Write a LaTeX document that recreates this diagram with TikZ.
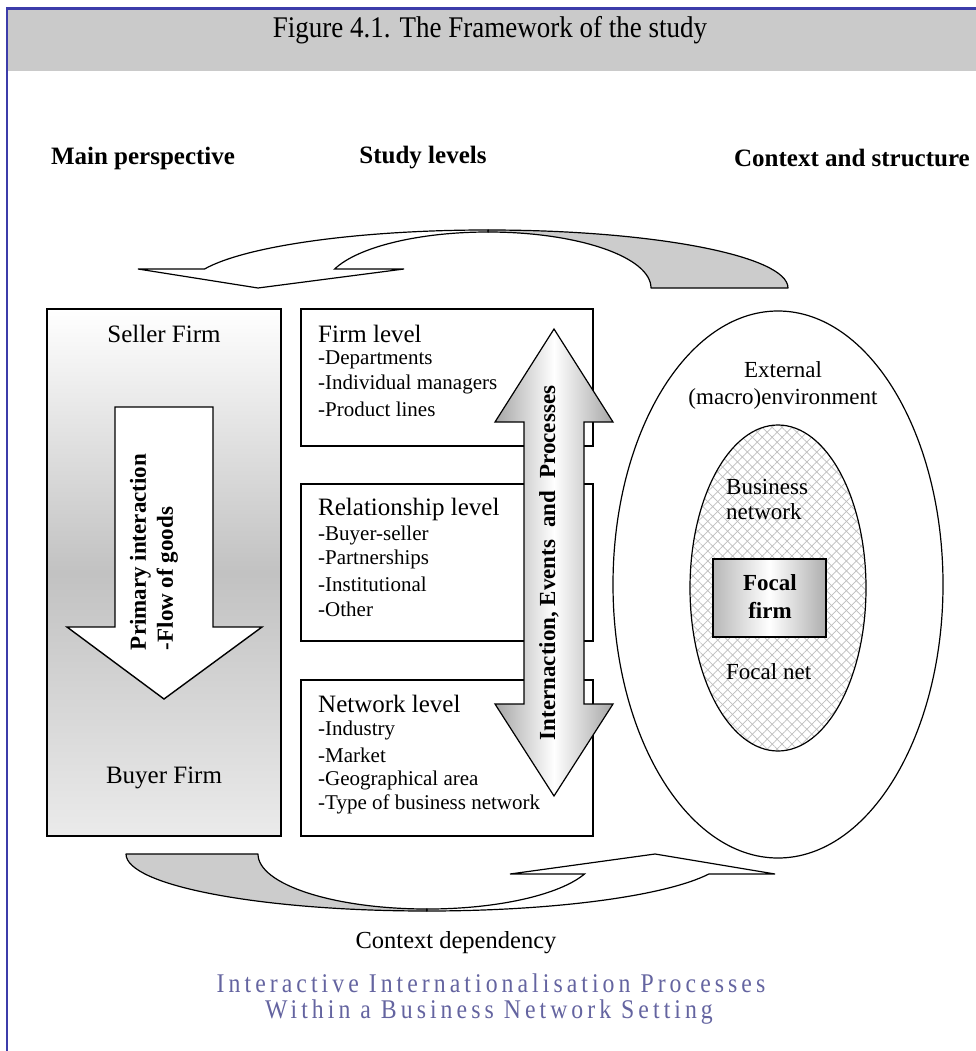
\documentclass[tikz,border=0pt]{standalone}
\usepackage{fontspec}
\setmainfont{Liberation Serif}
\newfontfamily\spacedfont[LetterSpace=15,FakeStretch=0.88]{Liberation Serif}
\newfontfamily\titlefont[FakeStretch=0.9]{Liberation Serif}
\usetikzlibrary{patterns.meta}
\definecolor{frameblue}{RGB}{60,60,170}
\definecolor{bargray}{RGB}{202,202,202}
\definecolor{backgray}{RGB}{204,204,204}
\definecolor{slate}{RGB}{100,100,160}
\definecolor{hatchgray}{RGB}{190,190,190}
\tikzset{
  hdr/.style={font=\fontsize{25}{29}\selectfont\bfseries, inner sep=0},
  lvl/.style={font=\fontsize{25}{29}\selectfont, anchor=west, inner sep=0},
  itm/.style={font=\fontsize{21}{25}\selectfont, anchor=west, inner sep=0},
  txt/.style={font=\fontsize{23}{27}\selectfont, inner sep=0},
  boxline/.style={draw=black, line width=1.2pt},
  backpart/.style={fill=backgray, draw=black, line width=1.2pt, line join=round},
  frontpart/.style={fill=white, draw=black, line width=1.2pt, line join=miter},
  subtitle/.style={inner sep=0, text=slate, font=\spacedfont\fontsize{27}{32}\selectfont},
}
\begin{document}
\begin{tikzpicture}[x=1pt,y=-1pt]
\useasboundingbox (0,0) rectangle (976,1051);
\fill[white] (0,0) rectangle (976,1051);
% title bar and frame
\fill[bargray] (8,10) rectangle (976,71);
\draw[frameblue, line width=2.5pt] (7,1051) -- (7,8.5) -- (976,8.5);
\node[font=\titlefont\fontsize{30}{34}\selectfont, inner sep=0, anchor=base] (title) at (490,38) {Figure 4.1. The Framework of the study};
% headers
\node[hdr] (hmain) at (143,158) {Main perspective};
\node[hdr] (hstudy) at (423,158) {Study levels};
\node[hdr] (hctx) at (852,158) {Context and structure};
% top curved arrow
\path[backpart] (488,230) arc[start angle=270,end angle=360,x radius=300,y radius=58]
  -- (651,288) arc[start angle=0,end angle=-90,x radius=163,y radius=56] -- cycle;
\path[frontpart] (204.5,269) arc[start angle=199.1,end angle=270,x radius=300,y radius=58]
  -- (488,232) arc[start angle=270,end angle=199.8,x radius=163,y radius=56]
  -- (404,269) -- (258,288) -- (138,269) -- cycle;
% bottom curved arrow
\path[backpart] (126,854) arc[start angle=180,end angle=90,x radius=301,y radius=57]
  -- (427,909) arc[start angle=90,end angle=180,x radius=169,y radius=55] -- cycle;
\path[frontpart] (427,911) arc[start angle=90,end angle=20.5,x radius=301,y radius=57]
  -- (775,874) -- (655,854) -- (510,874) -- (584.5,874)
  arc[start angle=21.3,end angle=90,x radius=169,y radius=55] -- cycle;
% left box
\path[boxline, top color=white, bottom color=black!8, middle color=black!24] (47,309) rectangle (281,836);
\node[txt, font=\fontsize{25}{29}\selectfont] (seller) at (164,334) {Seller Firm};
\node[txt, font=\fontsize{25}{29}\selectfont] (buyer) at (164,778) {Buyer Firm};
\path[frontpart, line width=1.4pt] (115,407) -- (213,407) -- (213,627) -- (262,627) -- (164,699) -- (67,627) -- (115,627) -- cycle;
\node[font=\fontsize{23}{27}\selectfont\bfseries, rotate=90, align=left, inner sep=0] (prim) at (154,552) {Primary interaction\\-Flow of goods};
% middle boxes
\draw[boxline, fill=white] (301,309) rectangle (593,446);
\draw[boxline, fill=white] (301,484) rectangle (593,641);
\draw[boxline, fill=white] (301,680) rectangle (593,836);
\node[lvl] (firmT) at (318,334) {Firm level};
\node[itm] (firm1) at (318,360) {-Departments};
\node[itm] (firm2) at (318,384) {-Individual managers};
\node[itm] (firm3) at (318,409) {-Product lines};
\node[lvl] (relT) at (318,509) {Relationship level};
\node[itm] (rel1) at (318,535) {-Buyer-seller};
\node[itm] (rel2) at (318,559) {-Partnerships};
\node[itm] (rel3) at (318,584) {-Institutional};
\node[itm] (rel4) at (318,609) {-Other};
\node[lvl] (netT) at (318,704) {Network level};
\node[itm] (net1) at (318,730) {-Industry};
\node[itm] (net2) at (318,755) {-Market};
\node[itm] (net3) at (318,780) {-Geographical area};
\node[itm] (net4) at (318,804) {-Type of business network};
% double arrow
\path[draw=black, line width=1.2pt, left color=black!35, right color=black!35, middle color=white]
  (554,329) -- (613,422) -- (584,422) -- (584,704) -- (613,704) -- (554,796)
  -- (495,704) -- (524,704) -- (524,422) -- (495,422) -- cycle;
\node[font=\fontsize{23}{27}\selectfont\bfseries, rotate=90, inner sep=0] (iep) at (549,563) {Internaction, Events\hspace{12pt}and\hspace{12pt}Processes};
% ellipses
\draw[line width=1.2pt, fill=white] (778,584.5) ellipse[x radius=165, y radius=273.5];
\fill[white] (778,588) ellipse[x radius=88, y radius=163];
\fill[pattern={Lines[angle=45,distance=7pt,line width=0.7pt]}, pattern color=hatchgray] (778,588) ellipse[x radius=88, y radius=163];
\fill[pattern={Lines[angle=-45,distance=7pt,line width=0.7pt]}, pattern color=hatchgray] (778,588) ellipse[x radius=88, y radius=163];
\draw[line width=1.2pt] (778,588) ellipse[x radius=88, y radius=163];
\path[draw=black, line width=1.5pt, left color=black!28, right color=black!32, middle color=white] (713,559) rectangle (826,637);
\node[txt, font=\fontsize{23}{28}\selectfont\bfseries, align=center] (focal) at (770,597) {Focal\\firm};
\node[txt, align=center] (ext) at (783,385) {External\\(macro)environment};
\node[txt, align=left, anchor=west, font=\fontsize{23}{25}\selectfont] (bn) at (726,499) {Business\\network};
\node[txt, anchor=west] (fnet) at (726,672) {Focal net};
% bottom texts
\node[txt, font=\fontsize{24.5}{29}\selectfont] (ctx) at (456,943) {Context dependency};
\node[subtitle] (sub1) at (491,983) {Interactive Internationalisation Processes};
\node[subtitle] (sub2) at (489,1012) {Within a Business Network Setting};
\end{tikzpicture}
\end{document}
